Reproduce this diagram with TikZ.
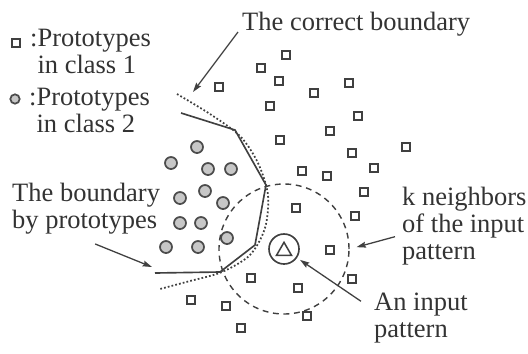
\documentclass[tikz,border=0pt]{standalone}
\usepackage{fontspec}
\setmainfont{Liberation Serif}
\usetikzlibrary{positioning,arrows.meta,shapes.geometric}

\begin{document}
\begin{tikzpicture}[
    x=0.03cm, y=-0.03cm,
    every node/.style={font=\fontsize{22.6}{23}\selectfont, text=black!80},
    lbl/.style={inner sep=0pt, anchor=base west, align=left},
    proto1/.style={draw=black!75, line width=1.9pt, minimum size=0.23cm, inner sep=0pt},
    proto2/.style={circle, draw=black!70, fill=black!22, line width=1.5pt, minimum size=0.36cm, inner sep=0pt},
    bnd/.style={line width=1.4pt, black!75},
    truebnd/.style={line width=1.5pt, black!75, dash pattern=on 1.5pt off 1.8pt},
    nbhd/.style={circle, draw=black!75, line width=1.2pt, dash pattern=on 5pt off 4pt, minimum size=3.9cm},
    arr/.style={-{Stealth[length=8pt,width=5pt,inset=1pt]}, line width=1.1pt, black!75},
]
\useasboundingbox (0,0) rectangle (528,353);

% Legend
\node[proto1] (leg1) at (16,43) {};
\node[lbl] (leg1lbl) at (30,73) {:Prototypes\\\phantom{:}in class 1};
\node[proto2, minimum size=0.28cm] (leg2) at (15,99) {};
\node[lbl] (leg2lbl) at (29,132) {:Prototypes\\\phantom{:}in class 2};

% Prototypes in class 1
\foreach \x/\y [count=\i] in {219/87, 261/68, 286/55, 279/81, 270/106, 280/140, 314/93,
    349/83, 358/116, 330/131, 352/153, 406/147, 302/171, 327/176, 374/168, 364/192,
    296/208, 355/216, 330/250, 352/279, 251/278, 298/288, 226/306, 307/316, 241/328, 191/300}
  \node[proto1] (sq\i) at (\x,\y) {};

% Prototypes in class 2
\foreach \x/\y [count=\i] in {197/147, 171/163, 208/169, 231/169, 180/198, 205/191,
    223/203, 180/223, 201/223, 227/238, 166/247, 198/247}
  \node[proto2] (ci\i) at (\x,\y) {};

% Boundaries
\draw[truebnd] plot[smooth] coordinates {(177,94) (210,114) (240,136) (258,163) (268,195)
    (265,228) (250,255) (222,272) (190,281) (160,289)};
\draw[bnd] (181,113) -- (235,130) -- (266,185) -- (255,245) -- (220,272) -- (155,273);

% Input pattern and its k neighbors
\node[nbhd] (knn) at (284,249) {};
\node[circle, draw=black!75, line width=1.4pt, minimum size=0.9cm] (inpat) at (284,249) {};
\node[regular polygon, regular polygon sides=3, draw=black!75, line width=1.3pt,
    minimum size=0.52cm, inner sep=0pt] (inpattri) at (284,251) {};

% Labels
\node[lbl] (cblbl) at (242,30) {The correct boundary};
\node[lbl] (bplbl) at (12,228) {The boundary\\by prototypes};
\node[lbl] (knlbl) at (402,259) {k neighbors\\of the input\\pattern};
\node[lbl] (inlbl) at (374,337) {An input\\pattern};

\coordinate (cbtip) at (193,92);
\coordinate (bptip) at (152,267);

% Arrows
\draw[arr] ([shift={(-4,2)}]cblbl.base west) -- (cbtip);
\draw[arr] ([shift={(9,10)}]bplbl.south) -- (bptip);
\draw[arr, shorten >=6pt] ([shift={(-7,11)}]knlbl.west) -- (knn.east);
\draw[arr, shorten >=3pt] ([shift={(-13,9)}]inlbl.north west) -- (inpat);

\end{tikzpicture}
\end{document}
